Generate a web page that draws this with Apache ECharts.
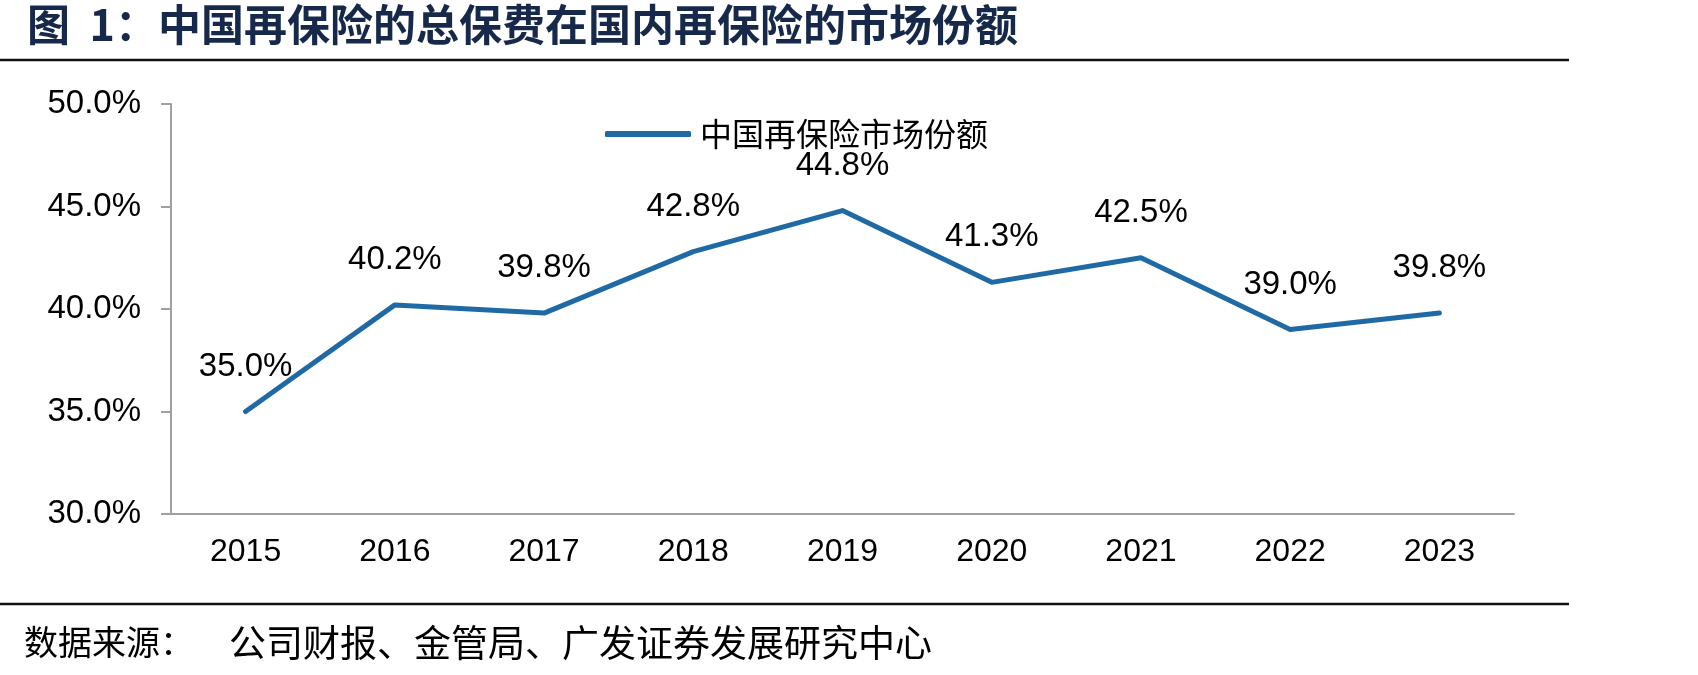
<!DOCTYPE html>
<html>
<head>
<meta charset="utf-8">
<script src="https://cdn.jsdelivr.net/npm/echarts@6/dist/echarts.min.js"></script>
<style>
  html, body { margin: 0; padding: 0; background: #fff; }
  #chart { width: 1698px; height: 675px; }
</style>
</head>
<body>
<div id="chart"></div>
<script>
// ----------data----------
const years = ['2015', '2016', '2017', '2018', '2019', '2020', '2021', '2022', '2023'];
const shareValues = [35.0, 40.2, 39.8, 42.8, 44.8, 41.3, 42.5, 39.0, 39.8]; // 单位: %
const seriesName = '中国再保险市场份额';
const titleText = '图  1：中国再保险的总保费在国内再保险的市场份额';
const sourceLabel = '数据来源：';
const sourceText = '公司财报、金管局、广发证券发展研究中心';
// ------------------------

const latin = 'Arial, "Liberation Sans", Helvetica, sans-serif';
const cjk = '"Noto Sans CJK SC", "Noto Sans", sans-serif';
const lineColor = '#1f6aa5';

const chart = echarts.init(document.getElementById('chart'), null, { renderer: 'canvas' });

const option = {
  backgroundColor: '#ffffff',
  animation: false,
  title: {
    text: titleText,
    left: 22,
    top: -2,
    textStyle: {
      fontFamily: cjk,
      fontSize: 43,
      fontWeight: 'bold',
      color: '#17294a',
    },
  },
  graphic: [
    // 标题下方分隔线
    {
      type: 'line',
      shape: { x1: 0, y1: 60, x2: 1569, y2: 60 },
      style: { stroke: '#111', lineWidth: 2.5 },
    },
    // 底部分隔线
    {
      type: 'line',
      shape: { x1: 0, y1: 604, x2: 1569, y2: 604 },
      style: { stroke: '#111', lineWidth: 2.5 },
    },
    {
      type: 'text',
      left: 24,
      top: 625,
      style: { text: sourceLabel, font: '34px ' + cjk, fill: '#000' },
    },
    {
      type: 'text',
      left: 229,
      top: 624,
      style: { text: sourceText, font: '37px ' + cjk, fill: '#000' },
    },
  ],
  legend: {
    data: [seriesName],
    left: 600,
    top: 113,
    icon: 'roundRect',
    itemWidth: 86,
    itemHeight: 6,
    textStyle: {
      fontFamily: cjk,
      fontSize: 32,
      color: '#000',
      padding: [0, 0, 0, 4],
    },
  },
  grid: {
    left: 171,
    right: 184,
    top: 104,
    bottom: 161,
    containLabel: false,
  },
  xAxis: {
    type: 'category',
    data: years,
    boundaryGap: true,
    axisLine: { lineStyle: { color: '#a0a0a0', width: 2 } },
    axisTick: { show: false },
    axisLabel: {
      fontFamily: latin,
      fontSize: 32,
      color: '#000',
      margin: 22,
    },
  },
  yAxis: {
    type: 'value',
    min: 30,
    max: 50,
    interval: 5,
    splitLine: { show: false },
    axisLine: { show: true, lineStyle: { color: '#a0a0a0', width: 2 } },
    axisTick: { show: true, length: 10, lineStyle: { color: '#a0a0a0', width: 2 } },
    axisLabel: {
      fontFamily: latin,
      fontSize: 33,
      color: '#000',
      margin: 30,
      formatter: (v) => v.toFixed(1) + '%',
    },
  },
  series: [
    {
      name: seriesName,
      type: 'line',
      data: shareValues,
      symbol: 'circle',
      symbolSize: 1,
      showSymbol: true,
      lineStyle: { color: lineColor, width: 5, cap: 'round', join: 'round' },
      itemStyle: { color: lineColor },
      label: {
        show: true,
        position: 'top',
        distance: 28,
        fontFamily: latin,
        fontSize: 33,
        color: '#000',
        formatter: (p) => p.value.toFixed(1) + '%',
      },
    },
  ],
};

chart.setOption(option);
</script>
</body>
</html>
